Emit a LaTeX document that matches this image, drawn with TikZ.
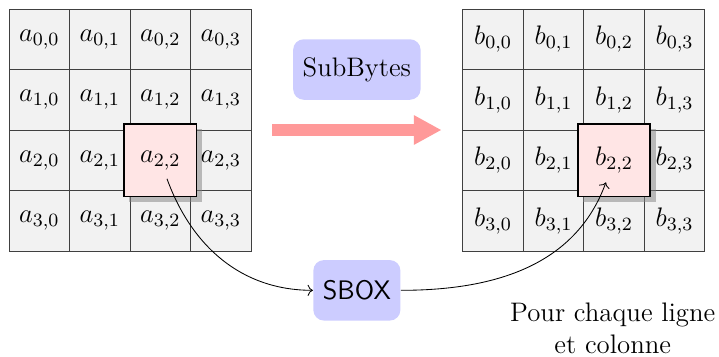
\RequirePackage{fix-cm}
\documentclass[tikz,border=0pt,12pt]{standalone}
\usepackage{tikz}
\usetikzlibrary{arrows.meta,shadows}
\tikzstyle{cell}=[draw=black!75,fill=black!5,minimum size=1cm,inner sep=0pt]
\tikzstyle{hl}=[draw,thick,fill=red!10,minimum size=1.2cm,drop shadow]
\tikzstyle{op}=[fill=blue!20,rounded corners=5pt,minimum height=1cm,inner sep=4.5pt]

\begin{document}
\begin{tikzpicture}[font=\fontsize{12.6}{15.2}\selectfont]
	\useasboundingbox (-0.149,-1.736) rectangle (11.736,4.149);
	\foreach \i in {0,...,3}
		\foreach \j in {0,...,3} {
			\node[cell] (a\i\j) at (\j+0.5,3.5-\i) {$a_{\i,\j}$};
			\node[cell] (b\i\j) at (\j+8,3.5-\i) {$b_{\i,\j}$};
		}
	\node[hl] (ha) at (a22) {};
	\node (ta) at (ha) {$a_{2,2}$};
	\node[hl] (hb) at (b22) {};
	\node (tb) at (hb) {$b_{2,2}$};
	\node[op] (sub) at (5.75,3) {SubBytes};
	\node[op,font=\fontsize{12.6}{15.2}\sffamily] (sbox) at (5.75,-0.65) {SBOX};
	\node[align=center,inner sep=0pt] (note) at (9.98,-1.28) {Pour chaque ligne\\et colonne};
	\coordinate (p1) at (4.35,2);
	\coordinate (p2) at (7.15,2);
	\draw[line width=6pt,red!40,-{Triangle[length=13pt,width=13pt]}] (p1) -- (p2);
	\path[->]
		(ta)	edge[out=-70,in=180]	(sbox)
		(sbox)	edge[out=0,in=-110]	(tb);
\end{tikzpicture}
\end{document}
